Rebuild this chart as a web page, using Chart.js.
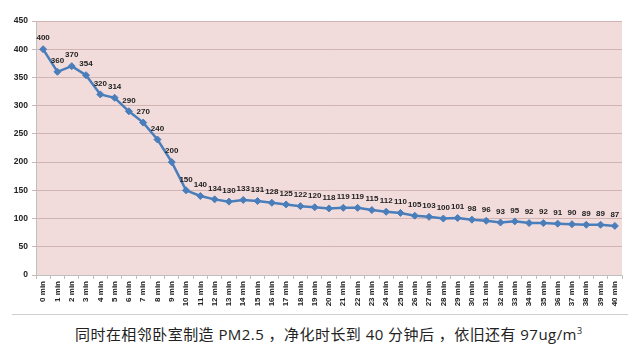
<!DOCTYPE html>
<html><head><meta charset="utf-8">
<script src="https://cdn.jsdelivr.net/npm/chart.js@4.4.0/dist/chart.umd.min.js"></script>
<style>
html,body{margin:0;padding:0;background:#fff;width:640px;height:350px;overflow:hidden;}
#wrap{position:absolute;left:0;top:0;width:640px;height:313px;}
#sep{position:absolute;left:12px;top:314px;width:616px;height:0;border-top:1px solid #cfcfcf;}
#cap{position:absolute;left:75px;top:324px;font-family:"Open Sans","Noto Sans CJK SC",sans-serif;font-size:15px;letter-spacing:0.45px;color:#222;white-space:nowrap;line-height:20px;}
#cap sup{font-size:9px;vertical-align:6px;line-height:0;}
</style></head>
<body>
<div id="wrap"><canvas id="c"></canvas></div>
<div id="sep"></div>
<div id="cap">同时在相邻卧室制造 PM2.5 ，净化时长到 40 分钟后 ，依旧还有 97ug/m<sup>3</sup></div>
<script>
const categories = ["0 min","1 min","2 min","3 min","4 min","5 min","6 min","7 min","8 min","9 min","10 min","11 min","12 min","13 min","14 min","15 min","16 min","17 min","18 min","19 min","20 min","21 min","22 min","23 min","24 min","25 min","26 min","27 min","28 min","29 min","30 min","31 min","32 min","33 min","34 min","35 min","36 min","37 min","38 min","39 min","40 min"];
const pm25 = [400,360,370,354,320,314,290,270,240,200,150,140,134,130,133,131,128,125,122,120,118,119,119,115,112,110,105,103,100,101,98,96,93,95,92,92,91,90,89,89,87];
const yTicks = [0,50,100,150,200,250,300,350,400,450];

const bgPlugin = {
  id:'bg',
  beforeDraw(chart){
    const {ctx, chartArea:a} = chart;
    ctx.save();
    ctx.fillStyle = '#f2dcdb';
    ctx.fillRect(a.left, a.top, a.right-a.left, a.bottom-a.top);
    ctx.restore();
  }
};
const labelPlugin = {
  id:'lbl',
  afterDatasetsDraw(chart){
    const {ctx} = chart;
    const meta = chart.getDatasetMeta(0);
    ctx.save();
    ctx.font = 'bold 8px "Liberation Sans", Arial, sans-serif';
    ctx.fillStyle = '#222';
    ctx.textAlign = 'center';
    ctx.textBaseline = 'middle';
    meta.data.forEach((p,i)=>{
      ctx.fillText(String(pm25[i]), p.x, p.y - 11);
    });
    ctx.restore();
  }
};

new Chart(document.getElementById('c'), {
  type:'line',
  data:{
    labels: categories,
    datasets:[{
      data: pm25,
      borderColor:'#4a7ebb',
      backgroundColor:'#4a7ebb',
      borderWidth:2.5,
      pointStyle:'rectRot',
      pointRadius:3.5,
      pointBorderWidth:1,
      pointBackgroundColor:'#4a7ebb',
      pointBorderColor:'#4a7ebb',
      tension:0
    }]
  },
  options:{
    responsive:true,
    maintainAspectRatio:false,
    animation:false,
    layout:{padding:{left:0,right:18,top:21,bottom:0}},
    plugins:{legend:{display:false},tooltip:{enabled:false}},
    scales:{
      x:{
        type:'category',
        offset:true,
        afterFit(s){ s.height = 38; },
        grid:{offset:true, drawOnChartArea:false, drawTicks:true, tickLength:4, color:'#bfbfbf'},
        border:{color:'#bfbfbf'},
        ticks:{autoSkip:false, maxRotation:90, minRotation:90, padding:2, color:'#222',
          font:{family:'"Liberation Sans", Arial, sans-serif', size:8, weight:'bold'}}
      },
      y:{
        min:0, max:450,
        afterFit(s){ s.width = 36; },
        afterBuildTicks(s){ s.ticks = yTicks.map(v=>({value:v})); },
        grid:{color:'#d0b3b3', tickLength:4, drawTicks:true},
        border:{color:'#bfbfbf'},
        ticks:{padding:4, color:'#222',
          font:{family:'"Liberation Sans", Arial, sans-serif', size:8.5, weight:'bold'}}
      }
    }
  },
  plugins:[bgPlugin, labelPlugin]
});
</script>
</body></html>
